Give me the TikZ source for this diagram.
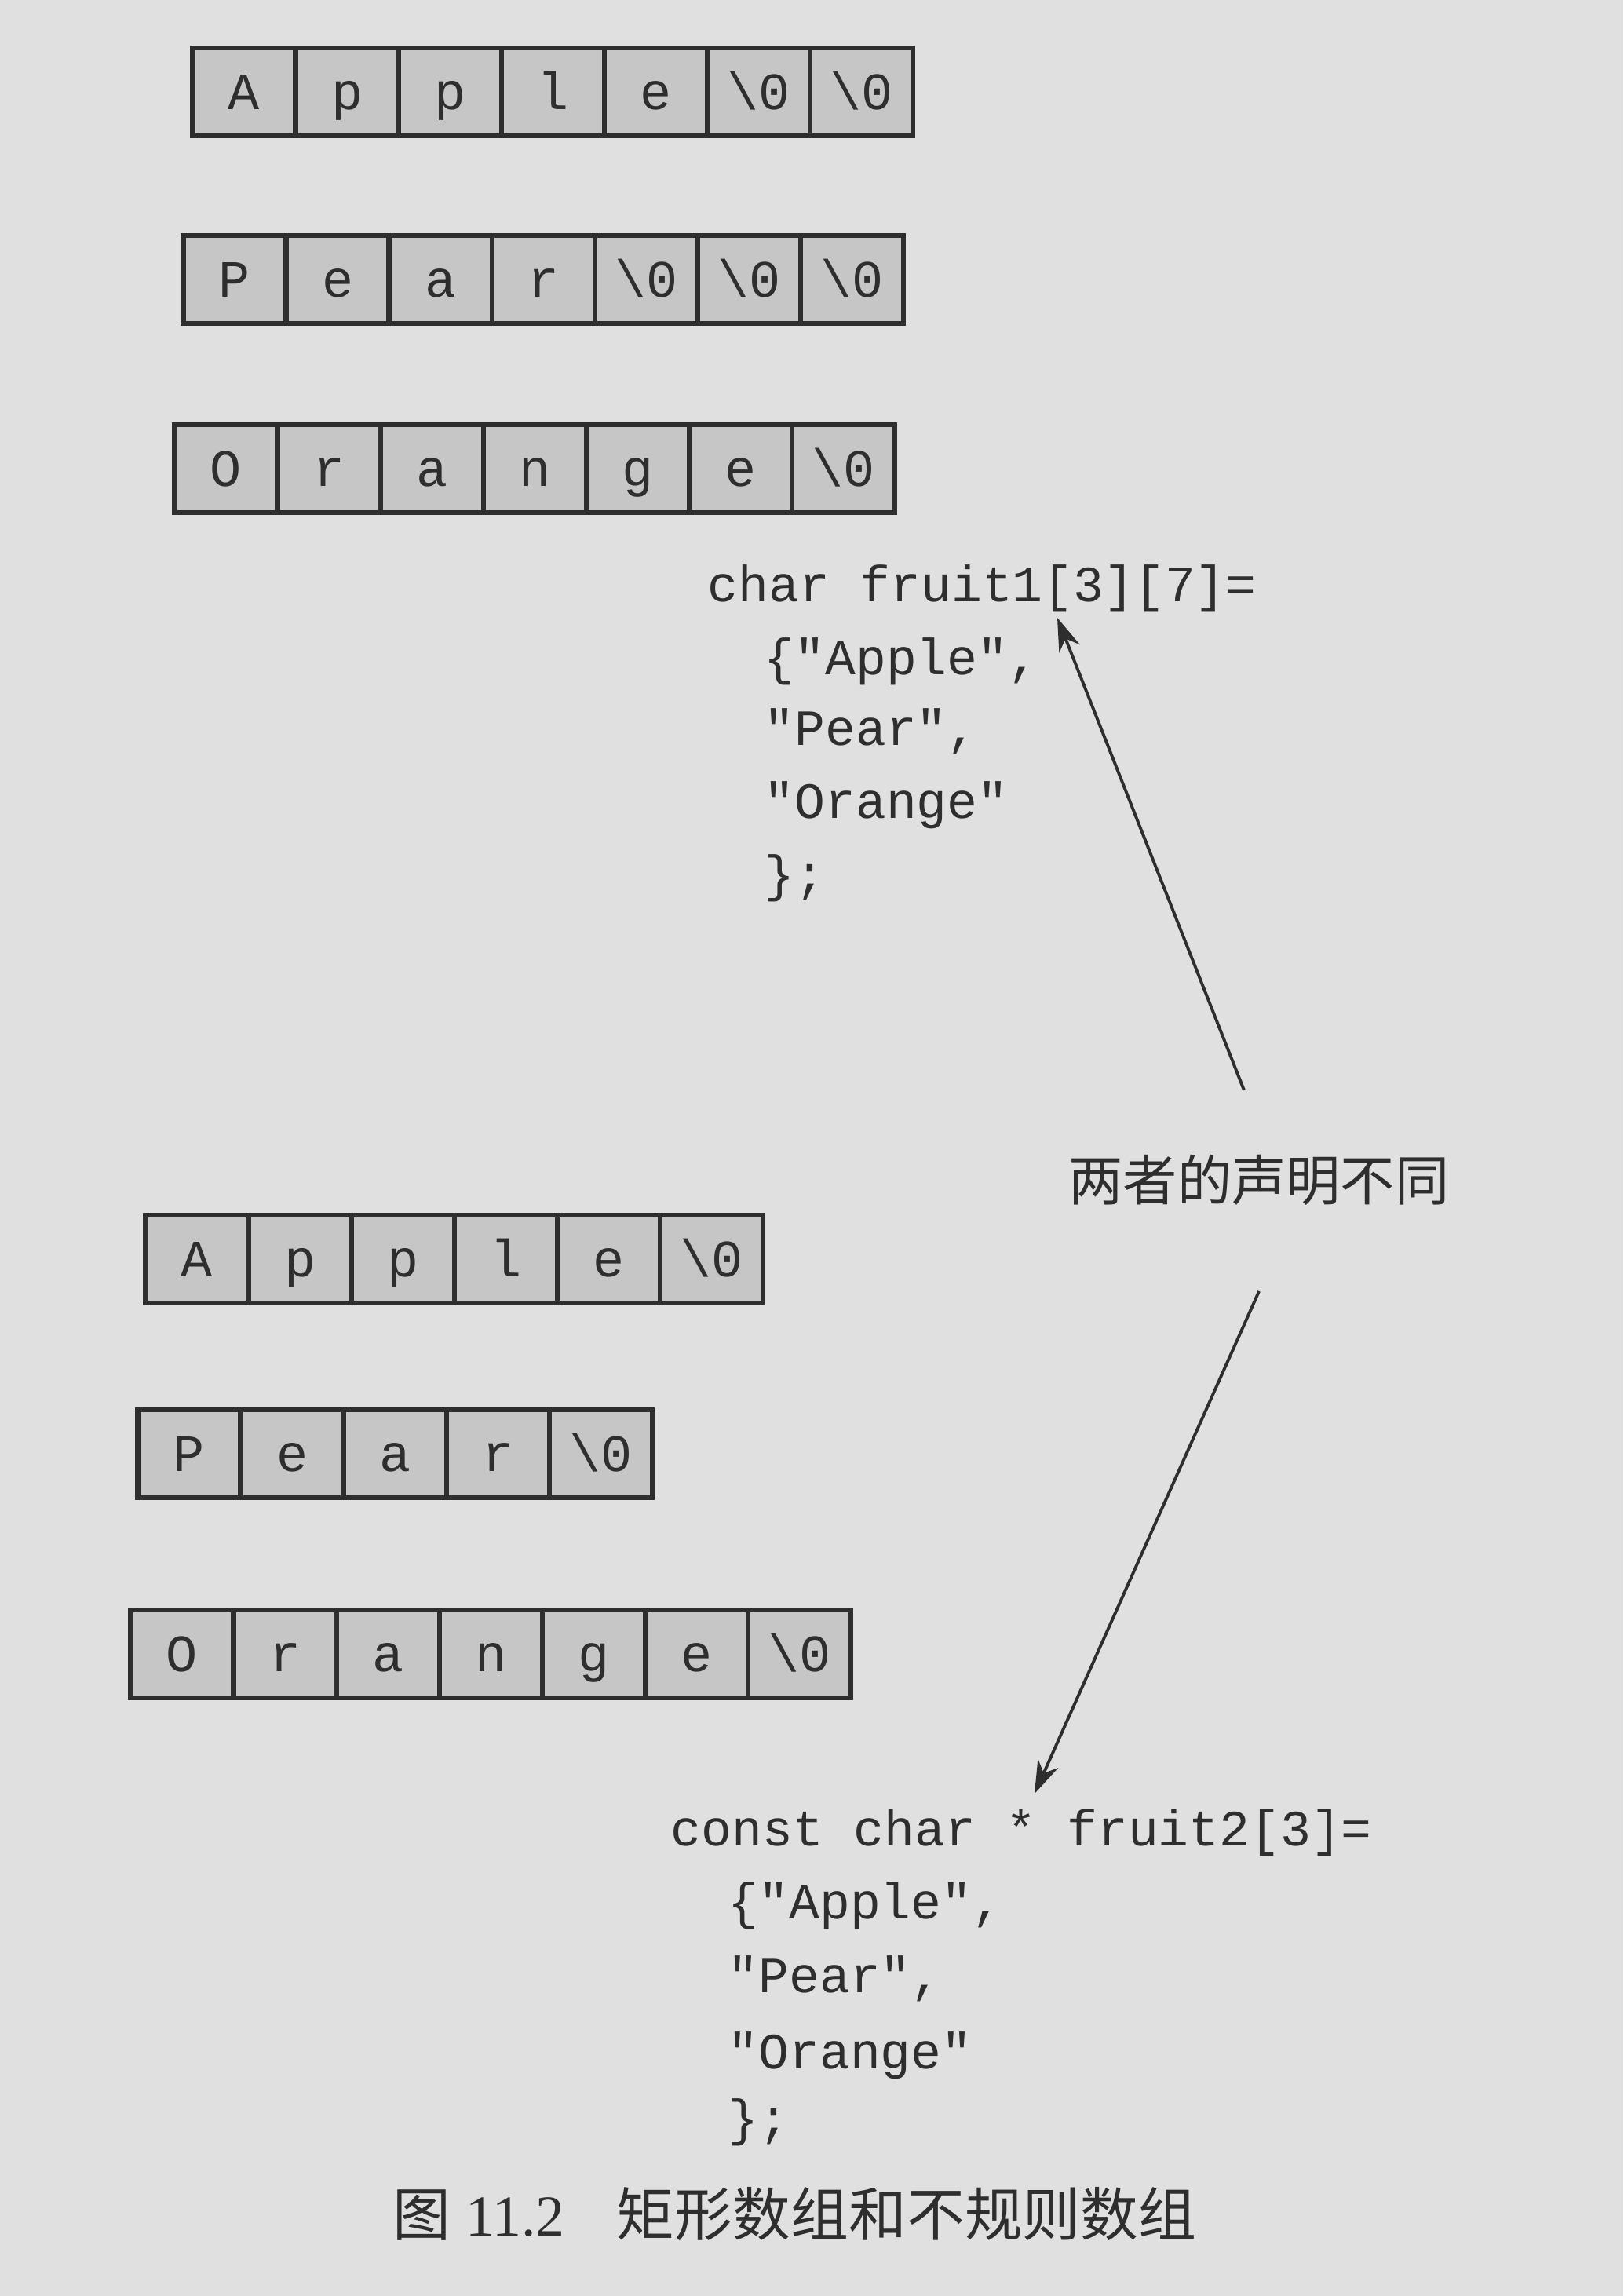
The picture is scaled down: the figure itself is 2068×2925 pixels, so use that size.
\documentclass[tikz,border=0pt]{standalone}
\usepackage{fontspec}
\setmainfont{Liberation Serif}
\setmonofont{Liberation Mono}
\newfontfamily\cjk{Noto Sans CJK SC}
\usepackage{tikz}
\usetikzlibrary{positioning,arrows.meta}

\definecolor{paper}{HTML}{E0E0E0}
\definecolor{cellgray}{HTML}{C6C6C6}
\definecolor{ink}{HTML}{2E2E2E}

\tikzset{
  cell/.style={draw=ink, line width=1.8pt, fill=cellgray, minimum width=1.31cm, minimum height=1.12cm,
    inner sep=0pt, outer sep=0pt, text height=13pt, text depth=0pt, text=ink,
    font=\ttfamily\fontsize{19}{19}\selectfont},
  code/.style={anchor=mid west, inner sep=0pt, text=ink, font=\ttfamily\fontsize{18.4}{22}\selectfont},
  pointer/.style={draw=ink, line width=1.1pt, -{Stealth[length=12pt,width=8pt]}}
}

\begin{document}
\begin{tikzpicture}[x=0.01cm, y=-0.01cm, node distance=1.31cm, on grid]
   \useasboundingbox (0,0) rectangle (2068,2925);
   \fill[paper] (0,0) rectangle (2068,2925);

   \node[cell] (a_1) at (311,117) {A};
   \node[cell] (a_2) [right=of a_1] {p};
   \node[cell] (a_3) [right=of a_2] {p};
   \node[cell] (a_4) [right=of a_3] {l};
   \node[cell] (a_5) [right=of a_4] {e};
   \node[cell] (a_6) [right=of a_5] {\textbackslash 0};
   \node[cell] (a_7) [right=of a_6] {\textbackslash 0};

   \node[cell] (b_1) at (299,356) {P};
   \node[cell] (b_2) [right=of b_1] {e};
   \node[cell] (b_3) [right=of b_2] {a};
   \node[cell] (b_4) [right=of b_3] {r};
   \node[cell] (b_5) [right=of b_4] {\textbackslash 0};
   \node[cell] (b_6) [right=of b_5] {\textbackslash 0};
   \node[cell] (b_7) [right=of b_6] {\textbackslash 0};

   \node[cell] (c_1) at (288,597) {O};
   \node[cell] (c_2) [right=of c_1] {r};
   \node[cell] (c_3) [right=of c_2] {a};
   \node[cell] (c_4) [right=of c_3] {n};
   \node[cell] (c_5) [right=of c_4] {g};
   \node[cell] (c_6) [right=of c_5] {e};
   \node[cell] (c_7) [right=of c_6] {\textbackslash 0};

   \node[code] (decl_1) at (901,758) {char fruit1[3][7]=};
   \node[code] (apple_1) at (973,851) {\{"Apple",};
   \node[code] (pear_1) at (973,941) {"Pear",};
   \node[code] (orange_1) at (973,1034) {"Orange"};
   \node[code] (end_1) at (973,1127) {\};};

   \node[font=\cjk\fontsize{19.7}{20}\selectfont, text=ink] (note) at (1604,1503) {两者的声明不同};

   \node[cell] (d_1) at (251,1604) {A};
   \node[cell] (d_2) [right=of d_1] {p};
   \node[cell] (d_3) [right=of d_2] {p};
   \node[cell] (d_4) [right=of d_3] {l};
   \node[cell] (d_5) [right=of d_4] {e};
   \node[cell] (d_6) [right=of d_5] {\textbackslash 0};

   \node[cell] (e_1) at (241,1852) {P};
   \node[cell] (e_2) [right=of e_1] {e};
   \node[cell] (e_3) [right=of e_2] {a};
   \node[cell] (e_4) [right=of e_3] {r};
   \node[cell] (e_5) [right=of e_4] {\textbackslash 0};

   \node[cell] (f_1) at (232,2107) {O};
   \node[cell] (f_2) [right=of f_1] {r};
   \node[cell] (f_3) [right=of f_2] {a};
   \node[cell] (f_4) [right=of f_3] {n};
   \node[cell] (f_5) [right=of f_4] {g};
   \node[cell] (f_6) [right=of f_5] {e};
   \node[cell] (f_7) [right=of f_6] {\textbackslash 0};

   \node[code] (decl_2) at (854,2343) {const char * fruit2[3]=};
   \node[code] (apple_2) at (927,2436) {\{"Apple",};
   \node[code] (pear_2) at (927,2530) {"Pear",};
   \node[code] (orange_2) at (927,2627) {"Orange"};
   \node[code] (end_2) at (927,2712) {\};};

   \node[anchor=mid west, inner sep=0pt, text=ink, font=\fontsize{21}{22}\selectfont] (caption) at (500,2840)
     {{\cjk 图} 11.2\hspace{0.9em}{\cjk 矩形数组和不规则数组}};

   \coordinate (tail_1) at (1585,1389);
   \coordinate (head_1) at (1347,787);
   \coordinate (tail_2) at (1604,1645);
   \coordinate (head_2) at (1318,2285);

   \draw[pointer] (tail_1) -- (head_1);
   \draw[pointer] (tail_2) -- (head_2);
\end{tikzpicture}
\end{document}
